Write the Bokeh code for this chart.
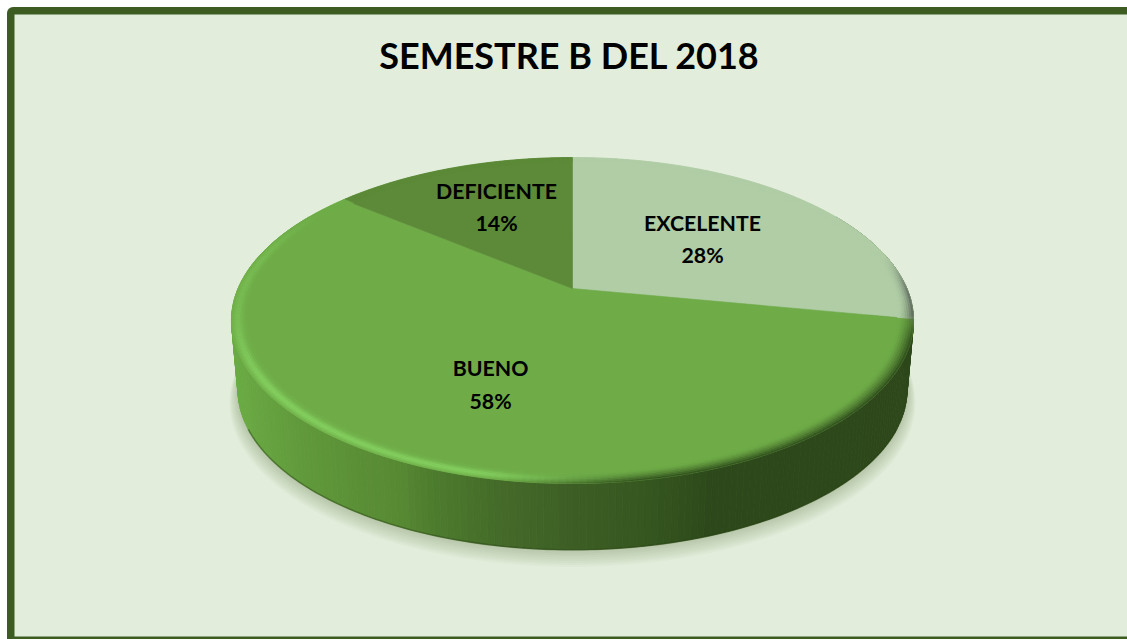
import numpy as np
from bokeh.plotting import figure
from bokeh.models import Range1d
from bokeh.core.properties import value
from bokeh.embed import file_html
from bokeh.resources import INLINE

# ---- data ----
title_text = "SEMESTRE B DEL 2018"
categories = ["EXCELENTE", "BUENO", "DEFICIENTE"]
percents = [28, 58, 14]

# ---- style ----
slice_colors = ["#b0cda6", "#6fac48", "#5c8a38"]
label_x = [702, 490, 496]
label_name_y = [222, 367, 190]
label_pct_y = [254, 400, 222]
BG = "#e2eedb"
FRAME = "#3d5c22"
FONT = "Lato"

# ---- perspective model of the pie disc, in page pixels ----
CX, CY = 572.0, 288.0
A, B, K = 156.7, 334.4, 0.1964
BASE_SCALE, BASE_DROP = 0.981, 70.0


def proj(theta, s=1.0):
    u, v = s * np.sin(theta), s * np.cos(theta)
    w = 1 + K * v
    return CX + B * u / w, CY - A * v / w


def proj_base(theta, grow=1.0, drop=0.0):
    x, y = proj(theta)
    return CX + (x - CX) * BASE_SCALE * grow, CY + (y - CY) * BASE_SCALE * grow + BASE_DROP + drop


def hex2rgb(c):
    return np.array([int(c[i:i + 2], 16) for i in (1, 3, 5)], dtype=float)


def rgb2hex(c):
    return "#%02x%02x%02x" % tuple(int(round(max(0, min(255, x)))) for x in c)


def mix(c1, c2, t):
    return rgb2hex(hex2rgb(c1) * (1 - t) + hex2rgb(c2) * t)


def smooth(a, b, x):
    t = np.clip((x - a) / (b - a), 0, 1)
    return t * t * (3 - 2 * t)


p = figure(width=1127, height=639, output_backend="svg", toolbar_location=None,
           x_range=Range1d(0, 1127), y_range=Range1d(639, 0),
           background_fill_color="#ffffff", border_fill_color="#ffffff",
           outline_line_color=None, min_border=0)
p.axis.visible = False
p.grid.visible = False

# chart frame
p.quad(left=[6.5], right=[1150], top=[6.5], bottom=[660], fill_color=FRAME, line_color=None, border_radius=6)
p.quad(left=[14], right=[1150], top=[14], bottom=[636], fill_color=BG, line_color=None)

# soft shadow under the disc
thetas = np.linspace(0, 2 * np.pi, 241)
for i in range(9, 0, -1):
    xs, ys = proj_base(thetas, grow=1 + 0.0028 * i, drop=1.35 * i)
    p.patch(xs, ys, fill_color="#5f7350", fill_alpha=0.04, line_color=None)

# side wall
wall_stops_x = [231, 300, 400, 430, 500, 570, 650, 710, 915]
wall_stops_c = ["#6bab44", "#60993b", "#578833", "#4d7c2e", "#446a29", "#3d5f25", "#35561f", "#2d491b", "#2d471b"]
edges = np.radians(np.linspace(60, 300, 241))
wx, wy, wc = [], [], []
for a0, a1 in zip(edges[:-1], edges[1:]):
    x0, y0 = proj(a0)
    x1, y1 = proj(a1)
    x2, y2 = proj_base(a1)
    x3, y3 = proj_base(a0)
    wx.append([x0, x1, x2, x3])
    wy.append([y0, y1, y2, y3])
    xm = (x0 + x1) / 2
    j = int(np.clip(np.searchsorted(wall_stops_x, xm) - 1, 0, len(wall_stops_x) - 2))
    t = (xm - wall_stops_x[j]) / (wall_stops_x[j + 1] - wall_stops_x[j])
    wc.append(mix(wall_stops_c[j], wall_stops_c[j + 1], float(np.clip(t, 0, 1))))
p.patches(wx, wy, fill_color=wc, line_color=wc, line_width=0.8)

# dark lower edge of the wall
bx, by = proj_base(np.radians(np.linspace(115, 245, 130)))
p.line(bx, by, line_color="#25400f", line_width=1.6, line_alpha=0.45)

# top surface wedges, drawn from the percentages
total = float(sum(percents))
bounds = np.concatenate([[0], np.cumsum(percents)]) / total * 2 * np.pi
for i, c in enumerate(slice_colors):
    arc = np.linspace(bounds[i], bounds[i + 1], 160)
    ax, ay = proj(arc)
    p.patch(np.r_[CX, ax], np.r_[CY, ay], fill_color=c, line_color=c, line_width=0.6)

# bevel around the rim
n_bands = 7
band_edges = np.linspace(1.0, 0.955, n_bands + 1)
rim_edges = np.linspace(0, 2 * np.pi, 361)
rx, ry, rc = [], [], []
for a0, a1 in zip(rim_edges[:-1], rim_edges[1:]):
    am = (a0 + a1) / 2
    deg = np.degrees(am)
    idx = int(np.searchsorted(bounds, am) - 1)
    base = slice_colors[idx]
    hi = smooth(165, 195, deg) * (1 - 0.55 * smooth(232, 268, deg)) * (1 - smooth(280, 306, deg))
    dark = smooth(92, 110, deg) * (1 - smooth(168, 195, deg))
    grey = smooth(76, 94, deg) * (1 - smooth(99, 103, deg))
    for b in range(n_bands):
        s0, s1 = band_edges[b], band_edges[b + 1]
        t = (b + 0.5) / n_bands
        col = mix(base, "#84d060", float(0.95 * hi * np.exp(-((t - 0.42) / 0.32) ** 2)))
        col = mix(col, "#2f4c1c", float(dark * (1 - t) ** 1.4))
        col = mix(col, "#59645a", float(grey * (1 - t) ** 2.5))
        x = [proj(a0, s0)[0], proj(a1, s0)[0], proj(a1, s1)[0], proj(a0, s1)[0]]
        y = [proj(a0, s0)[1], proj(a1, s0)[1], proj(a1, s1)[1], proj(a0, s1)[1]]
        rx.append(x)
        ry.append(y)
        rc.append(col)
p.patches(rx, ry, fill_color=rc, line_color=rc, line_width=0.5)

# texts
p.text([569], [54], text=[title_text], text_font=value(FONT), text_font_style="bold",
       text_font_size="36px", text_color="#000000", text_align="center", text_baseline="middle")
p.text(label_x, label_name_y, text=categories, text_font=value(FONT), text_font_style="bold",
       text_font_size="21.3px", text_color="#000000", text_align="center", text_baseline="middle")
p.text(label_x, label_pct_y, text=[f"{v}%" for v in percents], text_font=value(FONT), text_font_style="bold",
       text_font_size="21.3px", text_color="#000000", text_align="center", text_baseline="middle")

open("out.html", "w").write(file_html(p, INLINE, title=title_text))
